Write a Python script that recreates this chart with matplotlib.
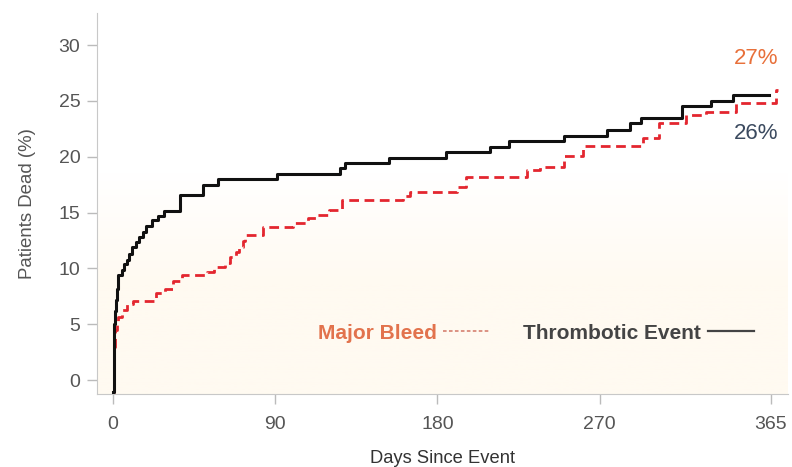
import matplotlib; matplotlib.use('Agg')
import matplotlib.pyplot as plt
import numpy as np
from matplotlib.lines import Line2D
from matplotlib.colors import LinearSegmentedColormap

# thrombotic event: cumulative mortality steps (days, %)
te_days = [0, 0.3, 0.6, 1, 1.5, 2, 2.8, 5, 6, 7.5, 9, 10.5, 12.5, 14.5, 16.5, 18.5, 21.5, 25, 28, 37, 50, 58,
           91, 126, 129, 153, 185, 209, 220, 250, 274, 287, 293, 316, 332, 344, 364]
te_vals = [-1.1, 2.5, 5.0, 6.2, 7.2, 8.2, 9.4, 9.9, 10.4, 10.8, 11.3, 11.9, 12.4, 12.8, 13.3, 13.8, 14.3, 14.7, 15.1, 16.6, 17.5, 18.0,
           18.5, 19.0, 19.4, 19.9, 20.4, 20.9, 21.4, 21.9, 22.4, 23.0, 23.5, 24.5, 25.0, 25.5, 25.5]

# major bleed
mb_days = [0, 0.3, 0.6, 1, 2, 3, 5, 8, 11, 24, 29, 33, 38, 52, 56, 62, 65, 68, 70, 72, 73, 83, 100, 108, 113, 120, 127,
           161, 165, 191, 196, 230, 237, 250, 261, 294, 303, 318, 329, 346, 368, 369]
mb_vals = [-1.1, 1.5, 3.0, 4.5, 5.1, 5.7, 6.3, 6.8, 7.1, 7.8, 8.2, 8.9, 9.4, 9.7, 10.1, 10.5, 11.0, 11.5, 11.9, 12.5, 13.0, 13.7, 14.1, 14.5, 14.8, 15.2, 16.1,
           16.5, 16.8, 17.3, 18.2, 18.8, 19.1, 20.1, 21.0, 21.7, 23.0, 23.7, 24.0, 24.8, 26.0, 26.0]

x_ticks = [0, 90, 180, 270, 365]
y_ticks = [0, 5, 10, 15, 20, 25, 30]
end_labels = ['27%', '26%']

RED = '#e3262f'; ORANGE = '#e2734d'; GREY = '#555555'
plt.rcParams['font.family'] = ['Liberation Sans', 'DejaVu Sans']

fig = plt.figure(figsize=(7.92, 4.67), dpi=100)
ax = fig.add_axes([0.1225, 0.156, 0.872, 0.816])
ax.set_xlim(-8.9, 374.4); ax.set_ylim(-1.25, 32.86)

# soft cream wash in lower part of the plot area
cream = LinearSegmentedColormap.from_list('cream', ['#fffaf1', '#fffaf1', '#ffffff'])
grad = np.linspace(0, 1, 256).reshape(-1, 1)
ax.imshow(grad, cmap=cream, aspect='auto', origin='lower', extent=(-8.9, 374.4, -1.25, 18.5), zorder=0)

ax.step(mb_days, mb_vals, where='post', color=RED, lw=2.0, ls=(0, (3.5, 2)), zorder=3)
ax.step(te_days, te_vals, where='post', color='#111111', lw=2.2, zorder=4)

ax.text(357, 28.8, end_labels[0], color='#e8703a', fontsize=16, ha='center', va='center')
ax.text(357, 22.1, end_labels[1], color='#3b4a5f', fontsize=16, ha='center', va='center')

handles = [Line2D([], [], color='#d98a7a', lw=1.3, ls=(0, (2, 1.3))),
           Line2D([], [], color='#444444', lw=1.6)]
ax.legend(handles, ['Major Bleed', 'Thrombotic Event'], loc='center', bbox_to_anchor=(0.636, 0.16), ncol=2,
          markerfirst=False, frameon=False, labelcolor=[ORANGE, '#444444'], prop={'weight': 'bold', 'size': 15},
          handlelength=2.25, handletextpad=0.3, columnspacing=1.6)

ax.set_xticks(x_ticks); ax.set_yticks(y_ticks)
ax.tick_params(colors='#bbbbbb', labelcolor=GREY, labelsize=14, length=7, width=1)
ax.tick_params(axis='x', pad=9); ax.tick_params(axis='y', pad=5)
for s in ['top', 'right']: ax.spines[s].set_visible(False)
for s in ['left', 'bottom']: ax.spines[s].set_color('#c8c8c8')
ax.set_xlabel('Days Since Event', fontsize=13.2, color='#333333', labelpad=12)
ax.set_ylabel('Patients Dead (%)', fontsize=13.4, color=GREY, labelpad=16)
fig.savefig('out.png', dpi=100)
